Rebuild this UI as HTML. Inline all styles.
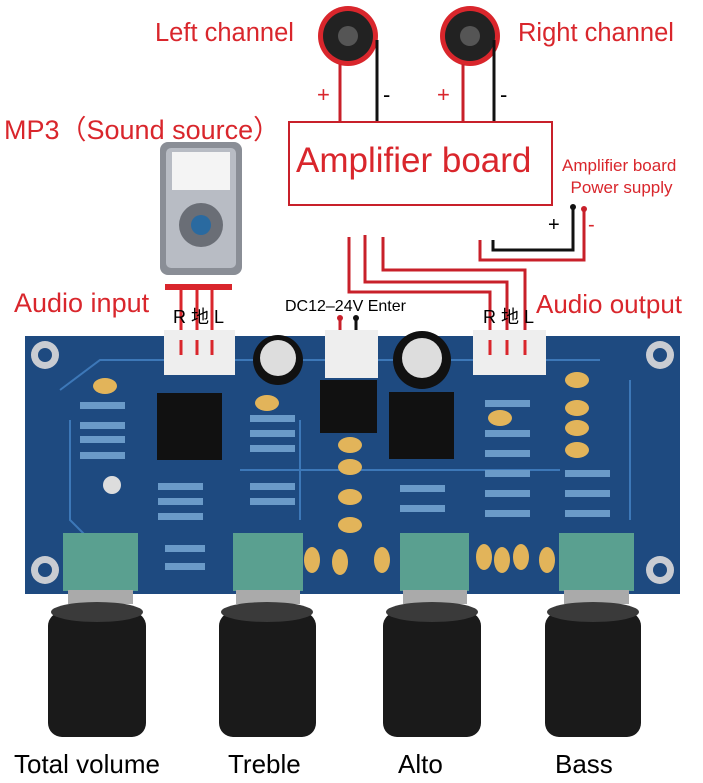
<!DOCTYPE html><html><head><meta charset="utf-8"><style>
body{margin:0;width:703px;height:783px;background:#fff;position:relative;overflow:hidden;font-family:"Liberation Sans","Noto Sans CJK SC",sans-serif}
.t{position:absolute;white-space:nowrap}
.r{color:#d9262c}
</style></head><body>
<svg width="703" height="783" style="position:absolute;left:0;top:0">
<g><circle cx="348" cy="36" r="30" fill="#d9262c"/><circle cx="348" cy="36" r="25" fill="#222"/><circle cx="348" cy="36" r="10" fill="#555"/></g>
<g><circle cx="470" cy="36" r="30" fill="#d9262c"/><circle cx="470" cy="36" r="25" fill="#222"/><circle cx="470" cy="36" r="10" fill="#555"/></g>
<g fill="none" stroke-width="3">
<line x1="340" y1="64" x2="340" y2="122" stroke="#c8202a"/><line x1="377" y1="40" x2="377" y2="122" stroke="#111"/>
<line x1="463" y1="64" x2="463" y2="122" stroke="#c8202a"/><line x1="494" y1="40" x2="494" y2="122" stroke="#111"/>
<rect x="289" y="122" width="263" height="83" stroke="#c8202a" stroke-width="2"/>
<polyline points="349,237 349,292 490,292 490,345" stroke="#c8202a"/>
<polyline points="365,235 365,282 507,282 507,345" stroke="#c8202a"/>
<polyline points="383,237 383,270 525,270 525,345" stroke="#c8202a"/>
<polyline points="573,207 573,250 493,250 493,240" stroke="#111"/>
<polyline points="584,207 584,260 480,260 480,240" stroke="#c8202a"/>
<line x1="340" y1="318" x2="340" y2="345" stroke="#c8202a"/><line x1="356" y1="318" x2="356" y2="345" stroke="#111"/>
</g>
<circle cx="573" cy="207" r="3" fill="#111"/><circle cx="584" cy="209" r="3" fill="#c8202a"/>
<circle cx="340" cy="318" r="3" fill="#c8202a"/><circle cx="356" cy="318" r="3" fill="#111"/>
<rect x="160" y="142" width="82" height="133" rx="8" fill="#8a8e96"/><rect x="166" y="148" width="70" height="120" rx="5" fill="#b8bcc4"/>
<rect x="172" y="152" width="58" height="38" fill="#f4f4f4"/><circle cx="201" cy="225" r="22" fill="#6a6e76"/><circle cx="201" cy="225" r="10" fill="#2a6aa0"/>
<rect x="165" y="284" width="67" height="6" fill="#d9262c"/>
<line x1="181" y1="290" x2="181" y2="345" stroke="#d9262c" stroke-width="3"/><line x1="197" y1="290" x2="197" y2="345" stroke="#d9262c" stroke-width="3"/><line x1="212" y1="290" x2="212" y2="345" stroke="#d9262c" stroke-width="3"/>
<rect x="25" y="336" width="655" height="258" fill="#1e4a80"/>
<g fill="none" stroke="#3d78b8" stroke-width="2"><path d="M60 390 L100 360 H600 M70 420 V520 L110 560 M630 380 V520 M240 470 H560 M300 420 V520"/></g>
<g fill="#c9ccd2"><circle cx="45" cy="355" r="14"/><circle cx="45" cy="570" r="14"/><circle cx="660" cy="355" r="14"/><circle cx="660" cy="570" r="14"/></g>
<g fill="#1e4a80"><circle cx="45" cy="355" r="7"/><circle cx="45" cy="570" r="7"/><circle cx="660" cy="355" r="7"/><circle cx="660" cy="570" r="7"/></g>
<g fill="#eee"><rect x="164" y="330" width="71" height="45"/><rect x="325" y="330" width="53" height="48"/><rect x="473" y="330" width="73" height="45"/></g>
<g stroke="#d9262c" stroke-width="3"><line x1="181" y1="340" x2="181" y2="355"/><line x1="197" y1="340" x2="197" y2="355"/><line x1="212" y1="340" x2="212" y2="355"/><line x1="490" y1="340" x2="490" y2="355"/><line x1="507" y1="340" x2="507" y2="355"/><line x1="525" y1="340" x2="525" y2="355"/></g>
<g fill="#111"><circle cx="278" cy="360" r="25"/><circle cx="422" cy="360" r="29"/><rect x="157" y="393" width="65" height="67"/><rect x="389" y="392" width="65" height="67"/><rect x="320" y="380" width="57" height="53"/></g>
<g fill="#ddd"><circle cx="278" cy="358" r="18"/><circle cx="422" cy="358" r="20"/></g>
<g fill="#6a9ac8"><rect x="80" y="402" width="45" height="7"/><rect x="80" y="422" width="45" height="7"/><rect x="80" y="436" width="45" height="7"/><rect x="80" y="452" width="45" height="7"/>
<rect x="250" y="415" width="45" height="7"/><rect x="250" y="430" width="45" height="7"/><rect x="250" y="445" width="45" height="7"/><rect x="158" y="483" width="45" height="7"/><rect x="158" y="498" width="45" height="7"/><rect x="158" y="513" width="45" height="7"/><rect x="250" y="483" width="45" height="7"/><rect x="250" y="498" width="45" height="7"/><rect x="165" y="545" width="40" height="7"/><rect x="165" y="563" width="40" height="7"/>
<rect x="485" y="400" width="45" height="7"/><rect x="485" y="430" width="45" height="7"/><rect x="485" y="450" width="45" height="7"/><rect x="485" y="470" width="45" height="7"/><rect x="485" y="490" width="45" height="7"/><rect x="485" y="510" width="45" height="7"/><rect x="400" y="485" width="45" height="7"/><rect x="400" y="505" width="45" height="7"/><rect x="565" y="470" width="45" height="7"/><rect x="565" y="490" width="45" height="7"/><rect x="565" y="510" width="45" height="7"/></g>
<g fill="#e2b45a"><ellipse cx="105" cy="386" rx="12" ry="8"/><ellipse cx="267" cy="403" rx="12" ry="8"/><ellipse cx="350" cy="445" rx="12" ry="8"/><ellipse cx="350" cy="467" rx="12" ry="8"/><ellipse cx="350" cy="497" rx="12" ry="8"/><ellipse cx="350" cy="525" rx="12" ry="8"/><ellipse cx="500" cy="418" rx="12" ry="8"/><ellipse cx="577" cy="380" rx="12" ry="8"/><ellipse cx="577" cy="408" rx="12" ry="8"/><ellipse cx="577" cy="428" rx="12" ry="8"/><ellipse cx="577" cy="450" rx="12" ry="8"/>
<ellipse cx="312" cy="560" rx="8" ry="13"/><ellipse cx="340" cy="562" rx="8" ry="13"/><ellipse cx="382" cy="560" rx="8" ry="13"/><ellipse cx="484" cy="557" rx="8" ry="13"/><ellipse cx="502" cy="560" rx="8" ry="13"/><ellipse cx="521" cy="557" rx="8" ry="13"/><ellipse cx="547" cy="560" rx="8" ry="13"/></g>
<circle cx="112" cy="485" r="9" fill="#ddd"/>
<g fill="#5aa090"><rect x="63" y="533" width="75" height="58"/><rect x="233" y="533" width="70" height="58"/><rect x="400" y="533" width="69" height="58"/><rect x="559" y="533" width="75" height="58"/></g>
<g fill="#aaa"><rect x="68" y="590" width="65" height="14"/><rect x="236" y="590" width="64" height="14"/><rect x="403" y="590" width="64" height="14"/><rect x="564" y="590" width="65" height="14"/></g>
<g fill="#1a1a1a"><rect x="48" y="612" width="98" height="125" rx="14"/><rect x="219" y="612" width="97" height="125" rx="14"/><rect x="383" y="612" width="98" height="125" rx="14"/><rect x="545" y="612" width="96" height="125" rx="14"/></g>
<g fill="#3a3a3a"><ellipse cx="97" cy="612" rx="46" ry="10"/><ellipse cx="267" cy="612" rx="46" ry="10"/><ellipse cx="432" cy="612" rx="46" ry="10"/><ellipse cx="593" cy="612" rx="46" ry="10"/></g>
</svg>
<div class="t r" style="left:155px;top:19px;font-size:25.5px">Left channel</div>
<div class="t r" style="left:518px;top:19px;font-size:25.5px">Right channel</div>
<div class="t r" style="left:317px;top:82px;font-size:22px">+</div><div class="t" style="left:383px;top:82px;font-size:22px">-</div>
<div class="t r" style="left:437px;top:82px;font-size:22px">+</div><div class="t" style="left:500px;top:82px;font-size:22px">-</div>
<div class="t r" style="left:4px;top:108px;font-size:27px">MP3（Sound source）</div>
<div class="t r" style="left:296px;top:141px;font-size:35px">Amplifier board</div>
<div class="t r" style="left:562px;top:155px;font-size:17px;text-align:center;line-height:22px">Amplifier board<br>&nbsp;Power supply</div>
<div class="t" style="left:548px;top:214px;font-size:20px">+</div><div class="t r" style="left:588px;top:214px;font-size:20px">-</div>
<div class="t r" style="left:14px;top:288px;font-size:27px">Audio input</div>
<div class="t r" style="left:536px;top:289px;font-size:26px">Audio output</div>
<div class="t" style="left:285px;top:298px;font-size:16px">DC12–24V Enter</div>
<div class="t" style="left:173px;top:303px;font-size:18px">R 地 L</div>
<div class="t" style="left:483px;top:303px;font-size:18px">R 地 L</div>
<div class="t" style="left:14px;top:749px;font-size:26px">Total volume</div>
<div class="t" style="left:228px;top:749px;font-size:26px">Treble</div>
<div class="t" style="left:398px;top:749px;font-size:26px">Alto</div>
<div class="t" style="left:555px;top:749px;font-size:26px">Bass</div>
</body></html>
